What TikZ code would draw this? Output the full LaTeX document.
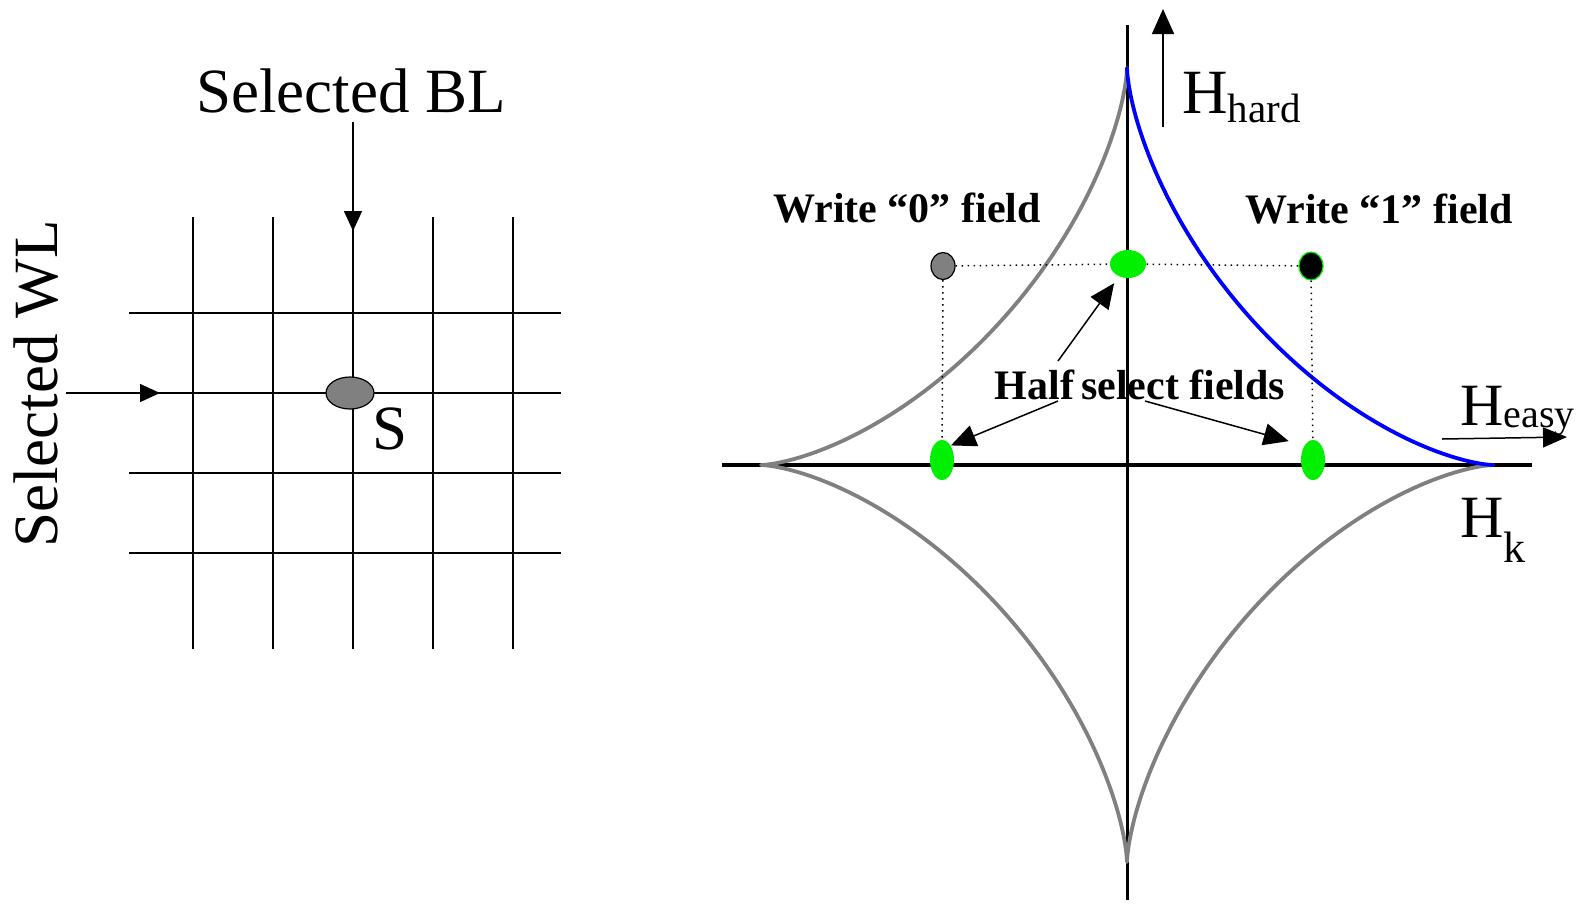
\documentclass[tikz,border=0pt]{standalone}
\usepackage{fontspec}
\setmainfont{Liberation Serif}
\usetikzlibrary{positioning,arrows.meta,calc,shapes.geometric}
\definecolor{curvegray}{HTML}{808080}
\definecolor{fieldgreen}{HTML}{00F000}

\begin{document}
\begin{tikzpicture}[
    x=1pt, y=-1pt,
    gridline/.style={line width=1.5pt, draw=black},
    axisline/.style={line width=3.5pt, draw=black},
    astroid/.style={line width=3.8pt, line join=round, line cap=round},
    guide/.style={line width=1.5pt, dash pattern=on 1.5pt off 4.5pt},
    smallpointer/.style={line width=1.5pt, -{Triangle[length=20pt, width=18pt]}},
    pointer/.style={line width=1.5pt, -{Triangle[length=25pt, width=22pt]}},
    biglabel/.style={font=\fontsize{63}{70}\selectfont, inner sep=0pt},
    boldlabel/.style={font=\fontsize{42}{48}\selectfont\bfseries, inner sep=0pt},
    fielddot/.style={ellipse, inner sep=0pt, line width=1.2pt}
]
    \useasboundingbox (0,0) rectangle (1578,903);

    % Memory array grid
    \foreach \gx in {193,273,353,433,513}
        \draw[gridline] (\gx,217) -- (\gx,649);
    \foreach \gy in {313,393,473,553}
        \draw[gridline] (129,\gy) -- (561,\gy);

    % Selected bit line
    \node[biglabel, anchor=base] (blLabel) at (351,112) {Selected BL};
    \coordinate (blEntry) at (353,231);
    \draw[smallpointer, shorten <=9pt] (blEntry |- blLabel.south) -- (blEntry);

    % Selected word line
    \node[biglabel, rotate=90, anchor=base] (wlLabel) at (57,384) {Selected WL};
    \coordinate (wlEntry) at (160,393);
    \draw[smallpointer, shorten <=8pt] (wlLabel.south |- wlEntry) -- (wlEntry);

    % Selected cell
    \node[fielddot, draw=black, fill=curvegray, minimum width=48pt, minimum height=32pt] (cellS) at (350,393) {};
    \node[biglabel, anchor=base] (sLabel) at (390,449) {S};

    % Field axes
    \draw[axisline] (722,465) -- (1532,465);
    \draw[line width=3pt] (1127,25) -- (1127,900);

    % Switching astroid
    \draw[astroid, draw=curvegray, domain=90:360, samples=240, smooth]
        plot ({1127+366*cos(\x)*cos(\x)*cos(\x)}, {465-397*sin(\x)*sin(\x)*sin(\x)});
    \draw[astroid, draw=blue, domain=0:90, samples=120, smooth]
        plot ({1127+366*cos(\x)*cos(\x)*cos(\x)}, {465-397*sin(\x)*sin(\x)*sin(\x)});

    % Hard axis label
    \coordinate (hardTail) at (1163,127);
    \coordinate (hardTip) at (1163,9);
    \draw[line width=1.5pt, -{Triangle[length=25pt, width=22pt]}] (hardTail) -- (hardTip);
    \node[biglabel, anchor=base west] (hardLabel) at (1182,113)
        {H\raisebox{-9pt}{\fontsize{41}{45}\selectfont hard}};

    % Easy axis label
    \node[biglabel, font=\fontsize{60}{66}\selectfont, anchor=base west] (easyLabel) at (1460,425)
        {H\raisebox{-2pt}{\fontsize{40}{44}\selectfont easy}};
    \coordinate (easyTail) at (1442,439);
    \coordinate (easyTip) at (1567,437);
    \draw[line width=1.5pt, -{Triangle[length=24pt, width=20pt]}] (easyTail) -- (easyTip);

    % Anisotropy field label
    \node[biglabel, font=\fontsize{60}{66}\selectfont, anchor=base west] (hkLabel) at (1460,537)
        {H\raisebox{-25pt}{\fontsize{44}{48}\selectfont k}};

    % Field points
    \node[fielddot, draw=black, fill=curvegray, minimum width=24pt, minimum height=27pt] (writeZero) at (943,266) {};
    \node[fielddot, fill=fieldgreen, minimum width=36pt, minimum height=28pt] (halfTop) at (1128,264) {};
    \node[fielddot, draw=fieldgreen, fill=black, minimum width=24pt, minimum height=28pt] (writeOne) at (1311,266) {};
    \node[fielddot, fill=fieldgreen, minimum width=24pt, minimum height=40pt] (halfLeft) at (942,460) {};
    \node[fielddot, fill=fieldgreen, minimum width=24pt, minimum height=40pt] (halfRight) at (1313,460) {};

    % Dotted guides
    \draw[guide] (writeZero) -- (halfTop);
    \draw[guide] (halfTop) -- (writeOne);
    \draw[guide] (writeZero) -- (halfLeft);
    \draw[guide] (writeOne) -- (halfRight);

    % Field labels
    \node[boldlabel, anchor=base] (zeroLabel) at (907,222) {Write “0” field};
    \node[boldlabel, anchor=base] (oneLabel) at (1379,223) {Write “1” field};
    \node[boldlabel, anchor=base] (halfLabel) at (1140,399) {Half\,select fields};

    % Half-select pointers
    \coordinate (halfFromTop) at (1058,361);
    \coordinate (halfFromLeft) at (1058,401);
    \coordinate (halfFromRight) at (1145,401);
    \draw[pointer, shorten >=8pt] (halfFromTop) -- (halfTop);
    \draw[pointer] (halfFromLeft) -- (halfLeft.north east);
    \draw[pointer, shorten >=16pt] (halfFromRight) -- (halfRight.north west);
\end{tikzpicture}
\end{document}
